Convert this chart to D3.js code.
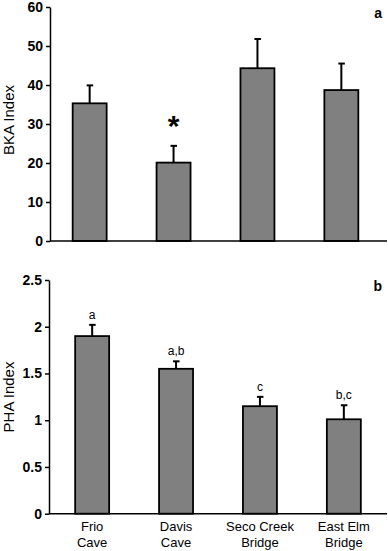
<!DOCTYPE html>
<html>
<head>
<meta charset="utf-8">
<script src="https://cdn.jsdelivr.net/npm/d3@7"></script>
<style>
  body { margin: 0; background: #fff; }
  svg { display: block; font-family: "Liberation Sans", Arial, sans-serif; }
</style>
</head>
<body>
<div id="chart"></div>
<script>
// Data
const sites = ["Frio Cave", "Davis Cave", "Seco Creek Bridge", "East Elm Bridge"];
const siteLines = [["Frio", "Cave"], ["Davis", "Cave"], ["Seco Creek", "Bridge"], ["East Elm", "Bridge"]];

const bkaMean = [35.3, 20.1, 44.3, 38.7];
const bkaErr = [4.6, 4.3, 7.5, 6.8];
const bkaTicks = [0, 10, 20, 30, 40, 50, 60];

const phaMean = [1.90, 1.55, 1.15, 1.01];
const phaErr = [0.12, 0.08, 0.10, 0.15];
const phaTicks = [0, 0.5, 1, 1.5, 2, 2.5];
const phaLetters = ["a", "a,b", "c", "b,c"];

const W = 388, H = 551;

const svg = d3.select("#chart")
    .append("svg")
    .attr("width", W)
    .attr("height", H);

function drawPanel(opts) {
    const g = svg.append("g");

    const x = d3.scaleBand()
        .domain(sites)
        .range(opts.xRange)
        .paddingInner(0.595)
        .paddingOuter(0.3);

    const y = d3.scaleLinear()
        .domain([0, opts.max])
        .range([opts.y0, opts.y1]);

    // y axis
    const yAxis = g.append("g")
        .attr("transform", `translate(${opts.axisX},0)`)
        .call(d3.axisLeft(y).tickValues(opts.ticks).tickSize(4).tickSizeOuter(0)
            .tickFormat(d => String(d)));
    yAxis.select(".domain").attr("stroke", "#000").attr("stroke-width", 1.5);
    yAxis.selectAll(".tick line").attr("stroke", "#000").attr("stroke-width", 1.5);
    yAxis.selectAll(".tick text")
        .attr("x", -7)
        .attr("font-size", 14)
        .attr("font-weight", "bold")
        .attr("fill", "#000")
        .attr("font-family", "'Liberation Sans', Arial, sans-serif");

    // bars
    g.selectAll("rect.bar")
        .data(opts.mean)
        .join("rect")
        .attr("class", "bar")
        .attr("x", (d, i) => x(sites[i]))
        .attr("width", x.bandwidth())
        .attr("y", d => y(d))
        .attr("height", d => y(0) - y(d))
        .attr("fill", "#808080")
        .attr("stroke", "#000")
        .attr("stroke-width", 1.8);

    // error bars
    const eb = g.selectAll("g.err")
        .data(opts.mean)
        .join("g")
        .attr("class", "err");
    eb.append("line")
        .attr("x1", (d, i) => x(sites[i]) + x.bandwidth() / 2)
        .attr("x2", (d, i) => x(sites[i]) + x.bandwidth() / 2)
        .attr("y1", d => y(d))
        .attr("y2", (d, i) => y(d + opts.err[i]))
        .attr("stroke", "#000")
        .attr("stroke-width", 2);
    eb.append("line")
        .attr("x1", (d, i) => x(sites[i]) + x.bandwidth() / 2 - 3)
        .attr("x2", (d, i) => x(sites[i]) + x.bandwidth() / 2 + 3.5)
        .attr("y1", (d, i) => y(d + opts.err[i]))
        .attr("y2", (d, i) => y(d + opts.err[i]))
        .attr("stroke", "#000")
        .attr("stroke-width", 2);

    // x axis baseline
    g.append("line")
        .attr("x1", opts.axisX)
        .attr("x2", 387)
        .attr("y1", y(0))
        .attr("y2", y(0))
        .attr("stroke", "#000")
        .attr("stroke-width", 1.5);

    // y label
    g.append("text")
        .attr("transform", `translate(14,${opts.labelY}) rotate(-90)`)
        .attr("text-anchor", "middle")
        .attr("font-size", 15)
        .text(opts.yLabel);

    // panel letter
    g.append("text")
        .attr("x", 382)
        .attr("y", opts.y1 + 11)
        .attr("text-anchor", "end")
        .attr("font-size", 14)
        .attr("font-weight", "bold")
        .text(opts.panel);

    return { g, x, y };
}

// Panel a
const a = drawPanel({
    xRange: [47.5, 383.5], axisX: 50, max: 60, y0: 241, y1: 7,
    ticks: bkaTicks, mean: bkaMean, err: bkaErr,
    yLabel: "BKA Index", labelY: 120, panel: "a"
});
a.g.append("text")
    .attr("x", a.x(sites[1]) + a.x.bandwidth() / 2)
    .attr("y", a.y(bkaMean[1] + bkaErr[1]) - 10)
    .attr("text-anchor", "middle")
    .attr("font-size", 30)
    .attr("font-weight", "bold")
    .text("*");

// Panel b
const b = drawPanel({
    xRange: [50, 386], axisX: 49, max: 2.5, y0: 513.7, y1: 280,
    ticks: phaTicks, mean: phaMean, err: phaErr,
    yLabel: "PHA Index", labelY: 397, panel: "b"
});
b.g.selectAll("text.sig")
    .data(phaLetters)
    .join("text")
    .attr("class", "sig")
    .attr("x", (d, i) => b.x(sites[i]) + b.x.bandwidth() / 2)
    .attr("y", (d, i) => b.y(phaMean[i] + phaErr[i]) - 6)
    .attr("text-anchor", "middle")
    .attr("font-size", 12)
    .text(d => d);

// category labels
const cat = b.g.selectAll("text.cat")
    .data(siteLines)
    .join("text")
    .attr("class", "cat")
    .attr("text-anchor", "middle")
    .attr("font-size", 13)
    .attr("x", (d, i) => b.x(sites[i]) + b.x.bandwidth() / 2)
    .attr("y", 531);
cat.append("tspan")
    .attr("x", (d, i) => b.x(sites[i]) + b.x.bandwidth() / 2)
    .text(d => d[0]);
cat.append("tspan")
    .attr("x", (d, i) => b.x(sites[i]) + b.x.bandwidth() / 2)
    .attr("dy", 16)
    .text(d => d[1]);
</script>
</body>
</html>
